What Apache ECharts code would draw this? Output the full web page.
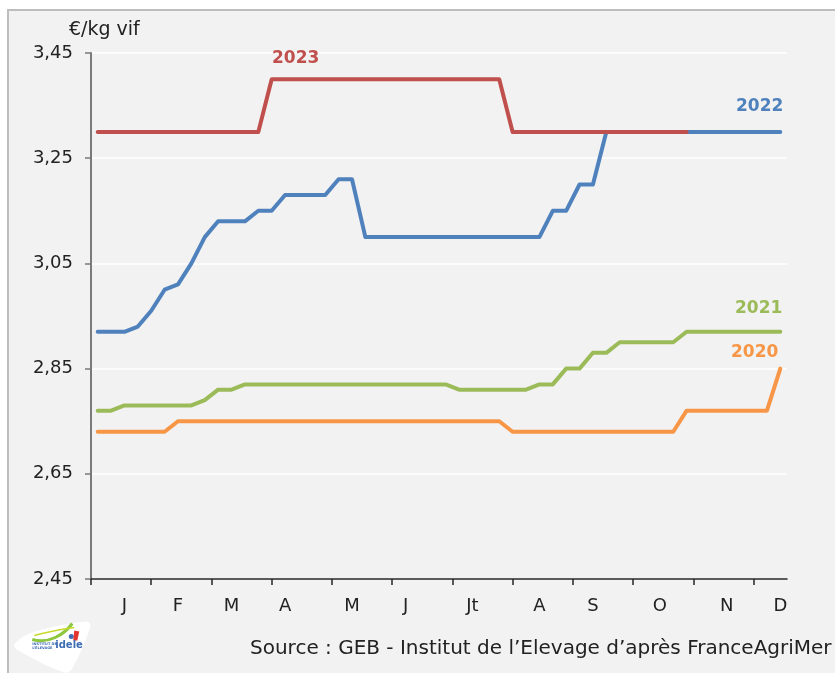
<!DOCTYPE html>
<html>
<head>
<meta charset="utf-8">
<script src="https://cdn.jsdelivr.net/npm/echarts@6/dist/echarts.min.js"></script>
<style>
  html, body { margin: 0; padding: 0; background: #fff; }
  #chart { width: 835px; height: 673px; }
</style>
</head>
<body>
<div id="chart"></div>
<script>
// étiquettes des semaines (le mois est écrit sous sa semaine du milieu)
const semaines = ['', '', 'J', '', '', '', 'F', '', '', '', 'M', '', '', '', 'A', '', '', '', '', 'M',
  '', '', '', 'J', '', '', '', '', 'Jt', '', '', '', '', 'A', '', '', '', 'S', '', '', '',
  '', 'O', '', '', '', '', 'N', '', '', '', 'D']
// séparations des mois sur l'axe (en semaines)
const separations = [0, 4.5, 9, 13.5, 18, 22.5, 27, 31.5, 36, 40.5, 45, 49.5]
const yTicks = [2.45, 2.65, 2.85, 3.05, 3.25, 3.45]

const prix2020 = [2.73, 2.73, 2.73, 2.73, 2.73, 2.73, 2.75, 2.75, 2.75, 2.75, 2.75, 2.75, 2.75, 2.75, 2.75, 2.75,
  2.75, 2.75, 2.75, 2.75, 2.75, 2.75, 2.75, 2.75, 2.75, 2.75, 2.75, 2.75, 2.75, 2.75, 2.75, 2.73, 2.73, 2.73,
  2.73, 2.73, 2.73, 2.73, 2.73, 2.73, 2.73, 2.73, 2.73, 2.73, 2.77, 2.77, 2.77, 2.77, 2.77, 2.77, 2.77, 2.85]
const prix2021 = [2.77, 2.77, 2.78, 2.78, 2.78, 2.78, 2.78, 2.78, 2.79, 2.81, 2.81, 2.82, 2.82, 2.82, 2.82, 2.82,
  2.82, 2.82, 2.82, 2.82, 2.82, 2.82, 2.82, 2.82, 2.82, 2.82, 2.82, 2.81, 2.81, 2.81, 2.81, 2.81, 2.81, 2.82,
  2.82, 2.85, 2.85, 2.88, 2.88, 2.90, 2.90, 2.90, 2.90, 2.90, 2.92, 2.92, 2.92, 2.92, 2.92, 2.92, 2.92, 2.92]
const prix2022 = [2.92, 2.92, 2.92, 2.93, 2.96, 3.00, 3.01, 3.05, 3.10, 3.13, 3.13, 3.13, 3.15, 3.15, 3.18, 3.18,
  3.18, 3.18, 3.21, 3.21, 3.10, 3.10, 3.10, 3.10, 3.10, 3.10, 3.10, 3.10, 3.10, 3.10, 3.10, 3.10, 3.10, 3.10,
  3.15, 3.15, 3.20, 3.20, 3.30, 3.30, 3.30, 3.30, 3.30, 3.30, 3.30, 3.30, 3.30, 3.30, 3.30, 3.30, 3.30, 3.30]
const prix2023 = [3.30, 3.30, 3.30, 3.30, 3.30, 3.30, 3.30, 3.30, 3.30, 3.30, 3.30, 3.30, 3.30, 3.40, 3.40, 3.40,
  3.40, 3.40, 3.40, 3.40, 3.40, 3.40, 3.40, 3.40, 3.40, 3.40, 3.40, 3.40, 3.40, 3.40, 3.40, 3.30, 3.30, 3.30,
  3.30, 3.30, 3.30, 3.30, 3.30, 3.30, 3.30, 3.30, 3.30, 3.30, 3.30]

const police = '"DejaVu Sans", sans-serif'

let myChart = echarts.init(document.getElementById('chart'))

function courbe (nom, couleur, data) {
  return {
    name: nom,
    type: 'line',
    data: data,
    showSymbol: false,
    symbol: 'none',
    lineStyle: { color: couleur, width: 4, cap: 'round', join: 'round' },
    itemStyle: { color: couleur },
    animation: false
  }
}

myChart.setOption({
  backgroundColor: '#fff',
  animation: false,
  grid: { left: 91, right: 48, top: 53, bottom: 94 },
  xAxis: [{
    type: 'category',
    data: semaines,
    boundaryGap: true,
    axisLine: { show: false },
    axisTick: { show: false },
    axisLabel: {
      interval: 0,
      margin: 18,
      color: '#222',
      fontFamily: police,
      fontSize: 18
    }
  }, {
    type: 'value',
    min: 0,
    max: 52,
    position: 'bottom',
    axisLine: { show: true, lineStyle: { color: '#262626', width: 1.5 } },
    axisTick: { show: true, length: 6, inside: false, customValues: separations, lineStyle: { color: '#262626', width: 1.5 } },
    axisLabel: { show: false },
    splitLine: { show: false }
  }],
  yAxis: {
    type: 'value',
    min: 2.45,
    max: 3.45,
    interval: 0.2,
    axisLine: { show: true, lineStyle: { color: '#7a7a7a', width: 2 } },
    axisTick: { show: true, length: 6, customValues: yTicks, lineStyle: { color: '#7a7a7a', width: 1.5 } },
    axisLabel: {
      customValues: yTicks,
      margin: 18,
      color: '#222',
      fontFamily: police,
      fontSize: 18,
      formatter: v => v.toFixed(2).replace('.', ',')
    },
    splitLine: { show: true, lineStyle: { color: '#ffffff', width: 1.5 } }
  },
  graphic: [
    {
      type: 'rect', z: -10,
      shape: { x: 8, y: 10, width: 840, height: 680 },
      style: { fill: '#f2f2f2', stroke: '#bdbdbd', lineWidth: 2 }
    },
    {
      type: 'text', left: 69, top: 21, z: 100,
      style: { text: '€/kg vif', font: '19px ' + police, fill: '#222' }
    },
    {
      type: 'text', left: 272, top: 50, z: 100,
      style: { text: '2023', font: 'bold 17px ' + police, fill: '#c0504d' }
    },
    {
      type: 'text', left: 736, top: 98, z: 100,
      style: { text: '2022', font: 'bold 17px ' + police, fill: '#4f81bd' }
    },
    {
      type: 'text', left: 735, top: 300, z: 100,
      style: { text: '2021', font: 'bold 17px ' + police, fill: '#9bbb59' }
    },
    {
      type: 'text', left: 731, top: 344, z: 100,
      style: { text: '2020', font: 'bold 17px ' + police, fill: '#f79646' }
    },
    {
      type: 'text', left: 250, top: 639, z: 100,
      style: { text: 'Source : GEB - Institut de l\u2019Elevage d\u2019après FranceAgriMer', font: '20px ' + police, fill: '#222' }
    },
    // logo idele (approximatif)
    {
      type: 'group', left: 14, top: 621, z: 100,
      children: [
        {
          type: 'polygon',
          shape: { points: [[2, 24], [20, 12], [74, 1], [78, 6], [60, 48], [52, 52], [6, 30]], smooth: 0.35 },
          style: { fill: '#ffffff' }
        },
        {
          type: 'bezierCurve',
          shape: { x1: 20, y1: 19, x2: 60, y2: 3, cpx1: 36, cpy1: 24, cpx2: 52, cpy2: 14 },
          style: { stroke: '#8dc63f', lineWidth: 3, fill: 'none' }
        },
        {
          type: 'bezierCurve',
          shape: { x1: 22, y1: 15, x2: 62, y2: 7, cpx1: 36, cpy1: 11, cpx2: 50, cpy2: 9 },
          style: { stroke: '#c8d92b', lineWidth: 1.5, fill: 'none' }
        },
        {
          type: 'circle', shape: { cx: 59, cy: 16, r: 2.5 }, style: { fill: '#3d6db4' }
        },
        {
          type: 'polygon', shape: { points: [[62, 10], [67, 11], [65, 20], [61, 20]] }, style: { fill: '#e3342f' }
        },
        {
          type: 'text', left: 20, top: 22,
          style: { text: 'INSTITUT DE\nL\u2019ÉLEVAGE', font: 'bold 3.5px ' + police, fill: '#3d6db4', lineHeight: 4 }
        },
        {
          type: 'text', left: 43, top: 20,
          style: { text: 'idele', font: 'bold 10px ' + police, fill: '#3d6db4' }
        }
      ]
    }
  ],
  series: [
    courbe('2020', '#f79646', prix2020),
    courbe('2021', '#9bbb59', prix2021),
    courbe('2022', '#4f81bd', prix2022),
    courbe('2023', '#c0504d', prix2023)
  ]
})
</script>
</body>
</html>
